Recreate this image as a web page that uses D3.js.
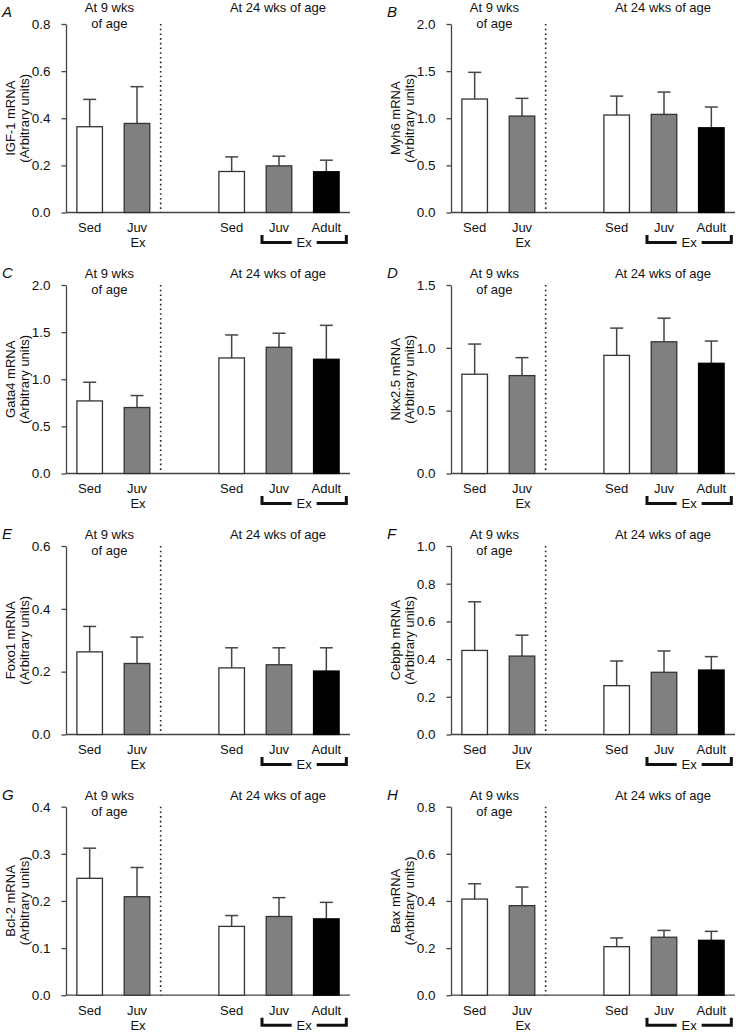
<!DOCTYPE html>
<html lang="en">
<head>
  <meta charset="UTF-8">
  <title>mRNA expression at 9 and 24 wks of age</title>
  <script src="https://cdn.jsdelivr.net/npm/d3@7"></script>
  <style>
    body { margin: 0; background: #fff; }
    text { font-family: "Liberation Sans", Arial, sans-serif; fill: #111; }
  </style>
</head>
<body>
<div id="chart"></div>
<script>

// panel data (mean and SEM)
const letters = ["A", "B", "C", "D", "E", "F", "G", "H"];
const genes = ["IGF-1 mRNA", "Myh6 mRNA", "Gata4 mRNA", "Nkx2.5 mRNA",
               "Foxo1 mRNA", "Cebpb mRNA", "Bcl-2 mRNA", "Bax mRNA"];
const groups = ["Sed9", "Juv9", "Sed24", "Juv24", "Adult24"];
const groupSlots = [0, 1, 3, 4, 5];
const groupFills = ["#fff", "#808080", "#fff", "#808080", "#000"];

const igf1Mean = [0.364, 0.378, 0.174, 0.198, 0.173];
const igf1Sem  = [0.116, 0.156, 0.062, 0.041, 0.049];
const myh6Mean = [1.204, 1.023, 1.034, 1.041, 0.899];
const myh6Sem  = [0.283, 0.188, 0.201, 0.237, 0.220];
const gata4Mean = [0.770, 0.700, 1.226, 1.339, 1.212];
const gata4Sem  = [0.198, 0.127, 0.244, 0.149, 0.360];
const nkx25Mean = [0.790, 0.779, 0.940, 1.048, 0.877];
const nkx25Sem  = [0.240, 0.143, 0.217, 0.188, 0.177];
const foxo1Mean = [0.263, 0.226, 0.212, 0.222, 0.202];
const foxo1Sem  = [0.081, 0.084, 0.064, 0.054, 0.074];
const cebpbMean = [0.446, 0.416, 0.259, 0.330, 0.342];
const cebpbSem  = [0.258, 0.111, 0.131, 0.113, 0.071];
const bcl2Mean = [0.248, 0.209, 0.146, 0.167, 0.162];
const bcl2Sem  = [0.064, 0.062, 0.023, 0.040, 0.035];
const baxMean = [0.408, 0.380, 0.206, 0.246, 0.233];
const baxSem  = [0.065, 0.079, 0.037, 0.029, 0.038];

const yMax = [0.8, 2.0, 2.0, 1.5, 0.6, 1.0, 0.4, 0.8];
const yStep = [0.2, 0.5, 0.5, 0.5, 0.2, 0.2, 0.1, 0.2];

const means = [igf1Mean, myh6Mean, gata4Mean, nkx25Mean, foxo1Mean, cebpbMean, bcl2Mean, baxMean];
const sems = [igf1Sem, myh6Sem, gata4Sem, nkx25Sem, foxo1Sem, cebpbSem, bcl2Sem, baxSem];

// layout
const width = 738, height = 1033;
const colX = [66, 451];
const rowTop = [24, 285, 546, 806.7];
const plotW = 284, plotH = 188.5;
const axisColor = "#444";

const svg = d3.select("#chart").append("svg")
    .attr("width", width)
    .attr("height", height);

letters.forEach(function (letter, i) {
  const x0 = colX[i % 2];
  const top = rowTop[Math.floor(i / 2)];
  const bottom = top + plotH;
  const titleUp = i < 2 ? -12 : -7;

  const x = d3.scaleBand()
      .domain(d3.range(6))
      .range([x0, x0 + plotW])
      .paddingInner(0.46)
      .paddingOuter(0.23);
  const cx = function (s) { return x(s) + x.bandwidth() / 2; };

  const y = d3.scaleLinear()
      .domain([0, yMax[i]])
      .range([bottom, top]);

  const g = svg.append("g");

  // y axis
  const ticks = d3.range(0, yMax[i] + yStep[i] / 2, yStep[i]);
  const yAxis = g.append("g")
      .attr("transform", "translate(" + x0 + ",0)")
      .call(d3.axisLeft(y).tickValues(ticks).tickFormat(d3.format(".1f"))
              .tickSize(4.5).tickSizeOuter(0).tickPadding(11));
  yAxis.select(".domain").attr("stroke", axisColor).attr("stroke-width", 1.3);
  yAxis.selectAll(".tick line").attr("stroke", axisColor).attr("stroke-width", 1.3);
  yAxis.selectAll(".tick text")
      .attr("font-size", 13.5)
      .attr("font-family", "Liberation Sans Narrow, Arial Narrow, Liberation Sans, sans-serif")
      .attr("fill", "#111");

  // x baseline
  g.append("line")
      .attr("x1", x0).attr("x2", x0 + plotW)
      .attr("y1", y(0)).attr("y2", y(0))
      .attr("stroke", axisColor).attr("stroke-width", 1.3);

  // dotted divider between ages
  const divX = (cx(1) + cx(2)) / 2;
  g.append("line")
      .attr("x1", divX).attr("x2", divX)
      .attr("y1", top).attr("y2", y(0))
      .attr("stroke", "#222").attr("stroke-width", 1.6)
      .attr("stroke-dasharray", "1.6,3.1");

  const rows = groups.map(function (name, k) {
    return {name: name, slot: groupSlots[k], mean: means[i][k], sem: sems[i][k], fill: groupFills[k]};
  });

  // error bars (upper only)
  const eb = g.append("g").attr("stroke", axisColor).attr("stroke-width", 1.5);
  eb.selectAll("line.v").data(rows).enter().append("line")
      .attr("x1", function (d) { return cx(d.slot); })
      .attr("x2", function (d) { return cx(d.slot); })
      .attr("y1", function (d) { return y(d.mean); })
      .attr("y2", function (d) { return y(d.mean + d.sem); });
  eb.selectAll("line.c").data(rows).enter().append("line")
      .attr("x1", function (d) { return cx(d.slot) - 6.5; })
      .attr("x2", function (d) { return cx(d.slot) + 6.5; })
      .attr("y1", function (d) { return y(d.mean + d.sem); })
      .attr("y2", function (d) { return y(d.mean + d.sem); });

  // bars
  g.selectAll("rect.bar").data(rows).enter().append("rect")
      .attr("x", function (d) { return x(d.slot); })
      .attr("y", function (d) { return y(d.mean); })
      .attr("width", x.bandwidth())
      .attr("height", function (d) { return y(0) - y(d.mean); })
      .attr("fill", function (d) { return d.fill; })
      .attr("stroke", function (d) { return d.fill === "#000" ? "#000" : "#333"; })
      .attr("stroke-width", 1.3);

  // group titles
  const t9 = (cx(0) + cx(1)) / 2 - 4;
  g.append("text").attr("x", t9).attr("y", top + titleUp)
      .attr("text-anchor", "middle").attr("font-size", 13).text("At 9 wks");
  g.append("text").attr("x", t9).attr("y", top + titleUp + 16)
      .attr("text-anchor", "middle").attr("font-size", 13).text("of age");
  g.append("text").attr("x", cx(4) - 1).attr("y", top + titleUp)
      .attr("text-anchor", "middle").attr("font-size", 13).text("At 24 wks of age");

  // panel letter
  g.append("text").attr("x", x0 - 64).attr("y", top + (i < 2 ? -7 : titleUp))
      .attr("font-size", 15).attr("font-style", "italic").text(letter);

  // y label
  const midY = (top + bottom) / 2;
  g.append("text")
      .attr("transform", "translate(" + (x0 - 51) + "," + midY + ") rotate(-90)")
      .attr("text-anchor", "middle").attr("font-size", 13).text(genes[i]);
  g.append("text")
      .attr("transform", "translate(" + (x0 - 37) + "," + midY + ") rotate(-90)")
      .attr("text-anchor", "middle").attr("font-size", 13).text("(Arbitrary units)");

  // x labels
  const xl = ["Sed", "Juv", "Sed", "Juv", "Adult"];
  g.selectAll("text.xl").data(rows).enter().append("text")
      .attr("x", function (d) { return cx(d.slot); })
      .attr("y", y(0) + 19.5)
      .attr("text-anchor", "middle").attr("font-size", 13)
      .text(function (d, k) { return xl[k]; });
  g.append("text").attr("x", cx(1) + 1).attr("y", y(0) + 34.5)
      .attr("text-anchor", "middle").attr("font-size", 13).text("Ex");

  // bracket for exercised groups at 24 wks
  const bl = cx(4) - 17, br = cx(5) + 20, mid = (cx(4) + cx(5)) / 2;
  const by = y(0) + 30;
  g.append("path")
      .attr("d", "M" + bl + "," + (by - 7.5) + "V" + by + "H" + (mid - 11) +
                 "M" + (mid + 14) + "," + by + "H" + br + "V" + (by - 7.5))
      .attr("fill", "none").attr("stroke", "#111").attr("stroke-width", 3);
  g.append("text").attr("x", mid + 1.5).attr("y", y(0) + 34.5)
      .attr("text-anchor", "middle").attr("font-size", 13).text("Ex");
});

</script>
</body>
</html>
